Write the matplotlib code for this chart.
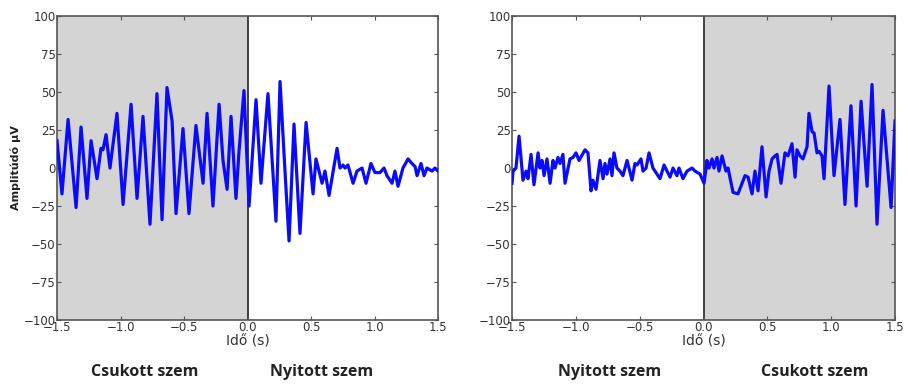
import matplotlib.pyplot as plt

# Bal oldali jel: csukott szem (-1.5..0 s), nyitott szem (0..1.5 s)
t_left = [-1.500, -1.461, -1.413, -1.350, -1.311, -1.264, -1.232, -1.185, -1.154, -1.138,
          -1.114, -1.083, -1.028, -0.980, -0.917, -0.870, -0.823, -0.768, -0.713, -0.673,
          -0.634, -0.594, -0.563, -0.508, -0.461, -0.406, -0.350, -0.319, -0.272, -0.224,
          -0.193, -0.161, -0.130, -0.091, -0.067, -0.028, 0.012, 0.067, 0.106, 0.161,
          0.224, 0.256, 0.295, 0.327, 0.366, 0.413, 0.461, 0.516, 0.539, 0.587,
          0.610, 0.642, 0.705, 0.728, 0.752, 0.768, 0.791, 0.831, 0.862, 0.902,
          0.933, 0.972, 1.004, 1.043, 1.075, 1.098, 1.138, 1.161, 1.185, 1.224,
          1.264, 1.295, 1.319, 1.335, 1.366, 1.390, 1.413, 1.453, 1.476, 1.500]
v_left = [18, -17, 32, -26, 27, -20, 18, -7, 13, 12,
          22, 0, 36, -24, 42, -20, 34, -37, 49, -34,
          53, 31, -30, 26, -30, 28, -10, 36, -25, 42,
          5, -14, 34, -20, 11, 51, -25, 45, -10, 49,
          -35, 57, -2, -48, 29, -43, 30, -17, 6, -10,
          -2, -18, 13, 0, 2, 0, 2, -10, -2, 0,
          -10, 3, -3, -3, 0, -5, -10, -2, -12, 0,
          6, 3, 1, -5, 3, -5, 0, -2, 0, -2]

# Jobb oldali jel: nyitott szem (-1.5..0 s), csukott szem (0..1.5 s)
t_right = [-1.500, -1.492, -1.469, -1.445, -1.414, -1.390, -1.375, -1.351, -1.328, -1.296,
           -1.281, -1.265, -1.249, -1.226, -1.202, -1.179, -1.163, -1.140, -1.124, -1.101,
           -1.085, -1.046, -1.022, -0.999, -0.975, -0.928, -0.905, -0.881, -0.866, -0.842,
           -0.811, -0.787, -0.772, -0.756, -0.732, -0.717, -0.701, -0.678, -0.654, -0.631,
           -0.599, -0.584, -0.560, -0.537, -0.521, -0.490, -0.474, -0.450, -0.427, -0.396,
           -0.380, -0.341, -0.309, -0.286, -0.262, -0.239, -0.208, -0.192, -0.161, -0.129,
           -0.090, -0.067, -0.027, 0.004, 0.027, 0.043, 0.067, 0.082, 0.106, 0.121,
           0.145, 0.176, 0.192, 0.231, 0.270, 0.302, 0.325, 0.349, 0.380, 0.403,
           0.427, 0.458, 0.490, 0.513, 0.537, 0.560, 0.576, 0.607, 0.638, 0.662,
           0.693, 0.717, 0.732, 0.756, 0.779, 0.811, 0.826, 0.850, 0.866, 0.889,
           0.905, 0.928, 0.944, 0.983, 1.022, 1.069, 1.108, 1.155, 1.195, 1.234,
           1.281, 1.320, 1.359, 1.406, 1.469, 1.500]
v_right = [-10, -2, 0, 21, -8, -2, -7, 9, -11, 10,
           0, 5, -5, 6, -10, 5, 0, 7, 3, 9,
           -10, 6, 7, 10, 5, 12, 10, -15, -8, -14,
           5, -7, 3, -4, 6, -5, 10, 0, -2, -5,
           5, 0, -8, 3, 2, 6, -2, 0, 10, 0,
           -2, -7, 2, -2, -6, 0, -5, 0, -7, -2,
           0, -2, -4, -10, 5, 0, 6, 0, 7, -2,
           8, -2, 0, -16, -17, -10, -5, -6, -17, -2,
           -15, 14, -19, -2, 6, 8, 9, -10, 10, 8,
           16, -6, 12, 8, 6, 14, 36, 24, 23, 10,
           11, 8, -7, 54, -5, 32, -24, 41, -25, 44,
           -12, 55, -37, 38, -26, 31]

x_ticks = [-1.5, -1.0, -0.5, 0.0, 0.5, 1.0, 1.5]
y_ticks = [-100, -75, -50, -25, 0, 25, 50, 75, 100]

fig = plt.figure(figsize=(9.08, 3.85), dpi=100)
ax1 = fig.add_axes([0.0628, 0.169, 0.4196, 0.789])
ax2 = fig.add_axes([0.5639, 0.169, 0.4218, 0.789])

szurke = '#d4d4d4'
kek = '#0a0aff'


def beallit(ax, shade_from, shade_to):
    ax.axvspan(shade_from, shade_to, color=szurke, zorder=0, lw=0)
    ax.axvline(0, color='#333333', lw=1.3, zorder=1)
    ax.set_xlim(-1.5, 1.5)
    ax.set_ylim(-100, 100)
    ax.set_xticks(x_ticks)
    ax.set_yticks(y_ticks)
    ax.set_xticklabels(['\u22121.5', '\u22121.0', '\u22120.5', '0.0', '0.5', '1.0', '1.5'])
    ax.set_yticklabels(['\u2212100', '\u221275', '\u221250', '\u221225', '0', '25', '50', '75', '100'])
    ax.tick_params(direction='in', length=3, width=0.8, top=True, right=True,
                   labelsize=8.5, colors='#555555', labelcolor='#333333', pad=1)
    for s in ax.spines.values():
        s.set_color('#555555')
        s.set_linewidth(1.2)
    ax.set_xlabel('Idő (s)', fontsize=10, color='#333333', labelpad=0)


beallit(ax1, -1.5, 0)
beallit(ax2, 0, 1.5)

ax1.plot(t_left, v_left, color=kek, lw=2.3, solid_joinstyle='round', zorder=3)
ax2.plot(t_right, v_right, color=kek, lw=2.3, solid_joinstyle='round', zorder=3)

ax1.set_ylabel('Amplitúdó µV', fontsize=8, fontweight='bold', color='#222222', labelpad=2)

cimke = dict(fontsize=11.5, fontweight='bold', color='#222222', ha='center', va='center',
             family='Open Sans')
fig.text(145 / 908, 1 - 372 / 385, 'Csukott szem', **cimke)
fig.text(322 / 908, 1 - 372 / 385, 'Nyitott szem', **cimke)
fig.text(610 / 908, 1 - 372 / 385, 'Nyitott szem', **cimke)
fig.text(815 / 908, 1 - 372 / 385, 'Csukott szem', **cimke)

fig.savefig('out.png', dpi=100)
